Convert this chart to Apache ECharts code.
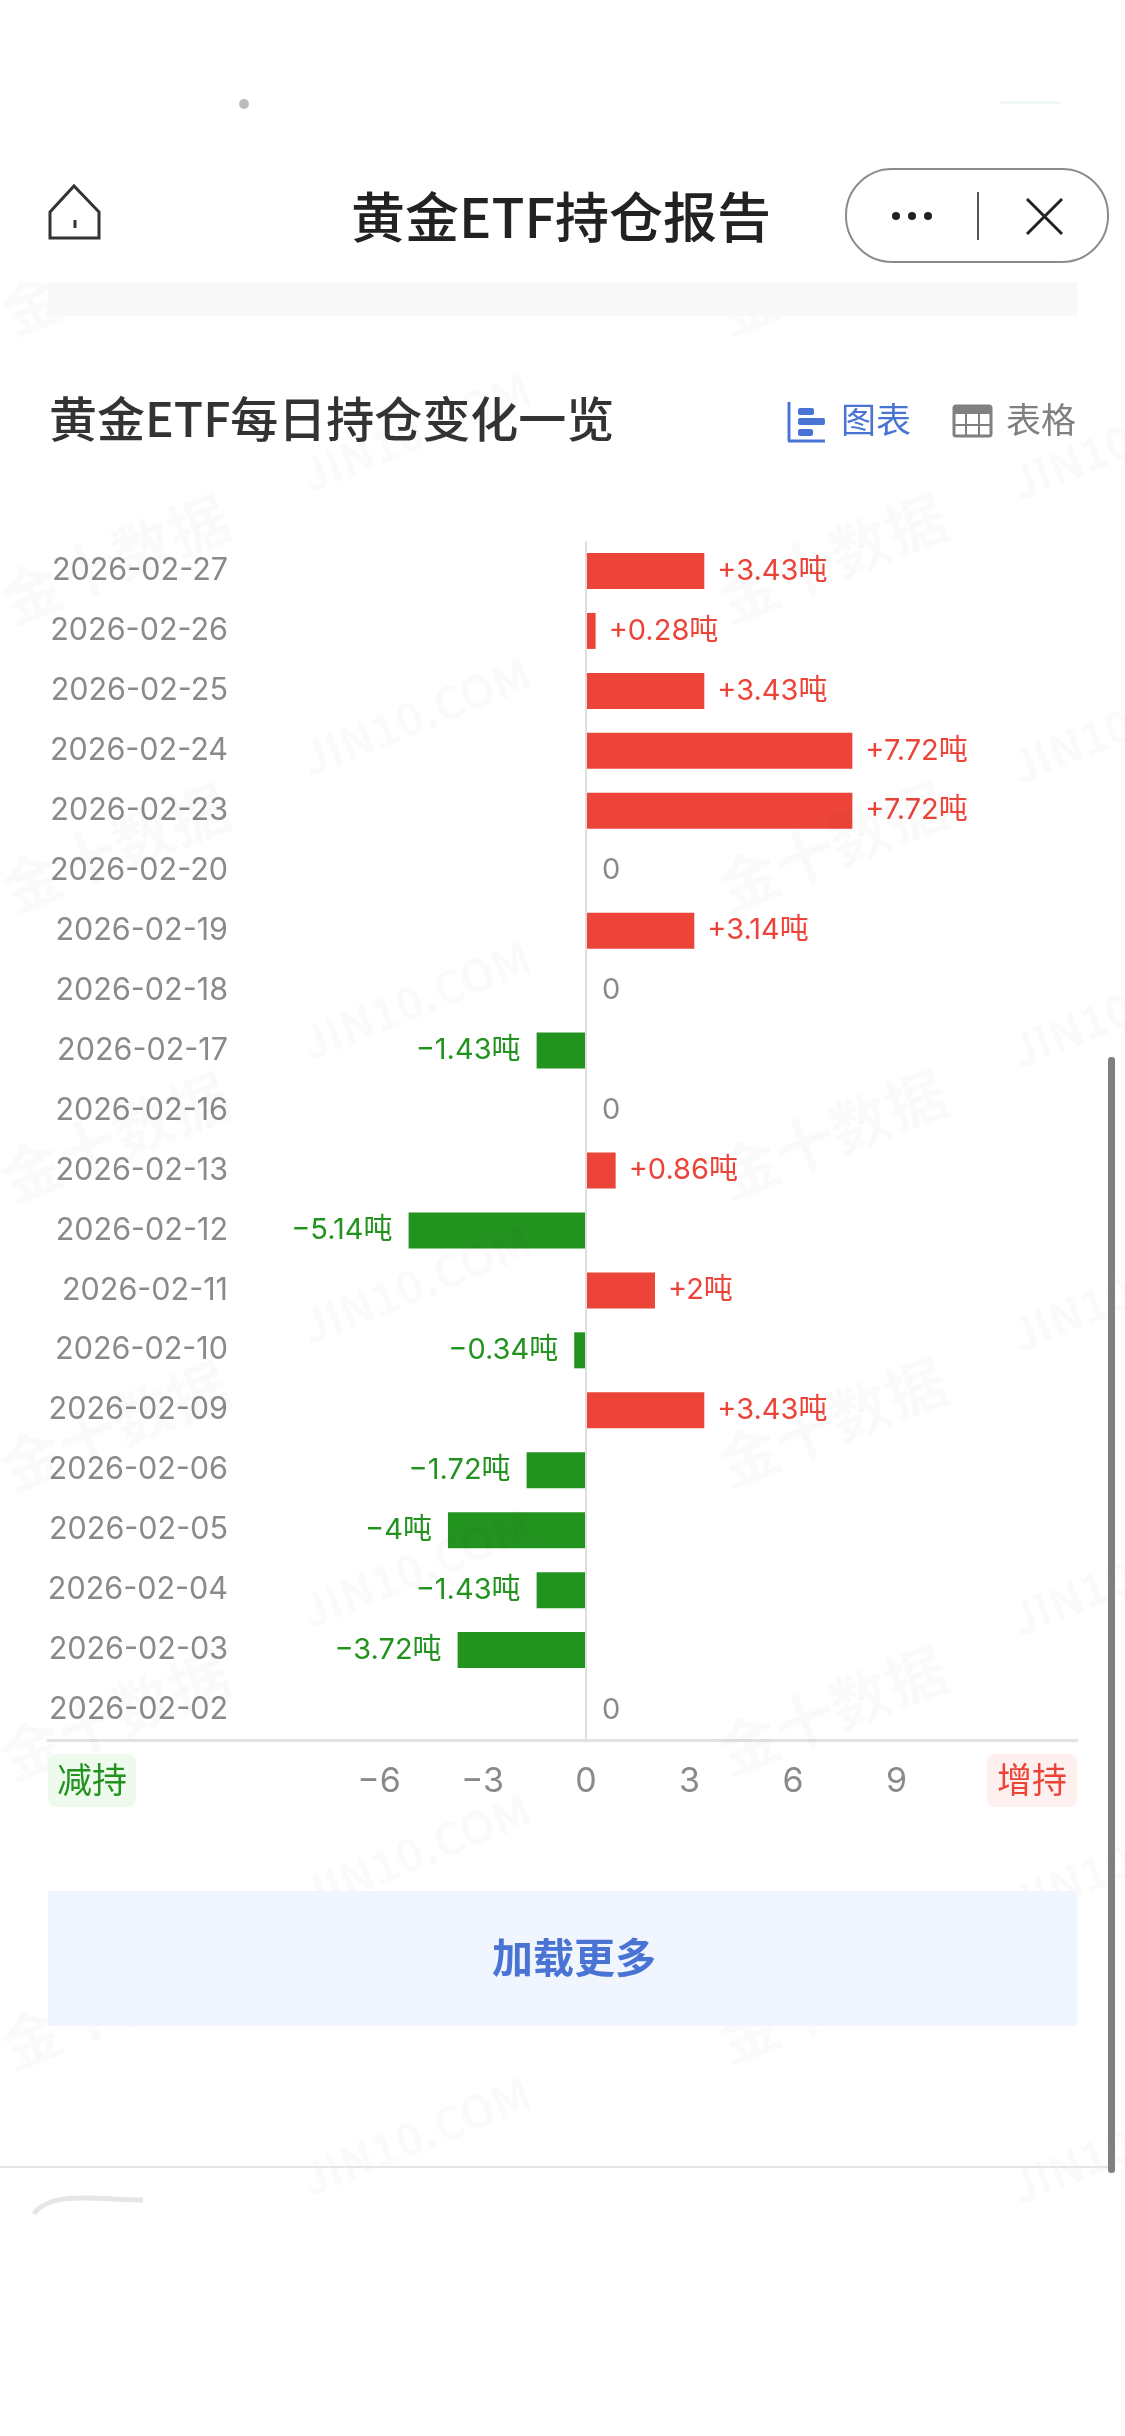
<!DOCTYPE html>
<html>
<head>
<meta charset="utf-8">
<title>黄金ETF持仓报告</title>
<style>
html,body{margin:0;padding:0;background:#fff}
#main{width:1125px;height:2436px}
</style>
<script src="https://cdn.jsdelivr.net/npm/echarts@6/dist/echarts.min.js"></script>
</head>
<body>
<div id="main"></div>
<script>
var dates = ['2026-02-27','2026-02-26','2026-02-25','2026-02-24','2026-02-23','2026-02-20','2026-02-19','2026-02-18','2026-02-17','2026-02-16',
    '2026-02-13','2026-02-12','2026-02-11','2026-02-10','2026-02-09','2026-02-06','2026-02-05','2026-02-04','2026-02-03','2026-02-02'];
var changes = [3.43,0.28,3.43,7.72,7.72,0,3.14,0,-1.43,0,0.86,-5.14,2,-0.34,3.43,-1.72,-4,-1.43,-3.72,0];
var xTicks = [-6,-3,0,3,6,9];

var FONT = '"Noto Sans CJK SC"';
var NUM_FONT = 'Inter, "Noto Sans CJK SC"';
var RED = '#ec4439', GREEN = '#23931f', GRAY = '#8a8a8a', BLUE = '#4a74d4';

var barData = changes.map(function(v){
    return {
        value: v,
        itemStyle: {color: v > 0 ? RED : GREEN},
        label: {
            position: v < 0 ? 'left' : 'right',
            distance: v > 0 ? 13 : 16,
            color: v > 0 ? RED : (v < 0 ? GREEN : GRAY)
        }
    };
});

function minus(s){
    return String(s).replace('-', '\u2212');
}
function txt(x, y, s, size, color, weight){
    return {type:'text', x:x, y:y, z:110, style:{text:s, fill:color, font:(weight||400)+' '+size+'px '+FONT, align:'center', verticalAlign:'middle'}};
}
function box(x, y, w, h, color, r, z){
    return {type:'rect', z:z||105, shape:{x:x,y:y,width:w,height:h,r:r||0}, style:{fill:color}};
}
function seg(x1, y1, x2, y2, color, w){
    return {type:'line', z:110, shape:{x1:x1,y1:y1,x2:x2,y2:y2}, style:{stroke:color, lineWidth:w}};
}

var graphics = [];

// 水印
function mark(x, y, s, size, weight){
    graphics.push({type:'text', x:x, y:y, z:100, rotation:22*Math.PI/180,
        style:{text:s, fill:'rgba(0,0,0,0.02)', font:weight+' '+size+'px '+FONT, align:'center', verticalAlign:'middle'}});
}
for(var i=0;i<7;i++){
    mark(115, 270+i*289, '金十数据', 60, 700);
    mark(832, 270+i*288, '金十数据', 60, 700);
    mark(416, 432+i*284, 'JIN10.COM', 45, 700);
    mark(1125, 440+i*284, 'JIN10.COM', 45, 700);
}

// 顶部导航
graphics.push(box(0,0,1125,282,'#fff',0,104));
graphics.push(box(48,282,1029,34,'#f8f8f8',0,105));
graphics.push({type:'polygon', z:110, shape:{points:[[50,212],[74,186],[99,212],[99,238],[50,238]]}, style:{fill:'none',stroke:'#333',lineWidth:3}});
graphics.push(seg(75,220,75,228,'#333',3));
graphics.push(txt(561,217,'黄金ETF持仓报告',54,'#222',500));
graphics.push({type:'rect', z:110, shape:{x:846,y:169,width:262,height:93,r:46}, style:{fill:'#fff',stroke:'#8c8c8c',lineWidth:2}});
[896,912,928].forEach(function(x){
    graphics.push({type:'circle', z:110, shape:{cx:x,cy:216,r:4}, style:{fill:'#222'}});
});
graphics.push(seg(978,192,978,240,'#555',2));
graphics.push(seg(1027,199,1062,234,'#222',3));
graphics.push(seg(1062,199,1027,234,'#222',3));

// 标题栏
graphics.push({type:'text', x:49, y:419, z:110, style:{text:'黄金ETF每日持仓变化一览', fill:'#333', font:'500 48px '+FONT, align:'left', verticalAlign:'middle'}});
graphics.push(seg(789,402,789,441,BLUE,3));
graphics.push(seg(788,441,825,441,BLUE,3));
graphics.push(box(798,408,16,7,BLUE,2,110));
graphics.push(box(798,418,27,7,BLUE,2,110));
graphics.push(box(798,429,15,7,BLUE,2,110));
graphics.push(txt(876,420,'图表',35,BLUE));
graphics.push({type:'rect', z:110, shape:{x:954,y:406,width:37,height:30,r:2}, style:{fill:'none',stroke:'#808080',lineWidth:3}});
graphics.push(box(954,406,37,8,'#808080',0,110));
graphics.push(seg(966,410,966,436,'#808080',2));
graphics.push(seg(979,410,979,436,'#808080',2));
graphics.push(seg(954,425,991,425,'#808080',2));
graphics.push(txt(1041,420,'表格',35,'#808080'));

// 减持 / 增持
graphics.push(box(48,1754,88,53,'#eefaee',8));
graphics.push(txt(92,1780,'减持',35,GREEN));
graphics.push(box(987,1754,90,53,'#fdf0ef',8));
graphics.push(txt(1032,1780,'增持',35,RED));

// 加载更多
graphics.push(box(48,1891,1029,135,'#f0f5fe',0,105));
graphics.push(txt(574,1957,'加载更多',41,BLUE,700));

// 底部
graphics.push(seg(0,2167,1108,2167,'#e6e6e6',2));
graphics.push({type:'bezierCurve', z:110, shape:{x1:34,y1:2214,x2:143,y2:2200,cpx1:50,cpy1:2190,cpx2:100,cpy2:2200}, style:{fill:'none',stroke:'#e6e6e6',lineWidth:5}});
graphics.push({type:'circle', z:110, shape:{cx:244,cy:104,r:5}, style:{fill:'#bbb'}});
graphics.push(box(1000,101,60,3,'#eef8f2',1,110));

// 滚动条
graphics.push(box(1108,1057,7,1116,'#808080',3,112));

var option = {
    backgroundColor: '#fff',
    animation: false,
    textStyle: {fontFamily: FONT},
    grid: {left:48, right:48, top:541, height:1199, containLabel:false},
    xAxis: {
        type: 'value',
        position: 'bottom',
        min: -15.59,
        max: 14.23,
        axisLine: {show:true, onZero:false, lineStyle:{color:'#e2e2e2', width:3}},
        axisTick: {show:false},
        splitLine: {show:false},
        axisLabel: {customValues:xTicks, color:GRAY, fontSize:34, margin:25, fontFamily:NUM_FONT, formatter:minus}
    },
    yAxis: {
        type: 'category',
        data: dates,
        inverse: true,
        axisLine: {show:false, onZero:false},
        axisTick: {show:false},
        axisLabel: {inside:true, align:'right', margin:180, color:GRAY, fontSize:30.5, padding:[6,0,0,0], fontFamily:NUM_FONT}
    },
    series: [{
        type: 'bar',
        data: barData,
        barWidth: 36,
        label: {
            show: true,
            fontSize: 29,
            padding: [6,0,0,0],
            fontFamily: NUM_FONT,
            formatter: function(p){
                if(p.value === 0) return '0';
                return (p.value > 0 ? '+' : '') + minus(p.value) + '吨';
            }
        },
        markLine: {
            silent: true,
            symbol: 'none',
            label: {show:false},
            lineStyle: {color:'#dedede', width:2, type:'solid'},
            data: [{xAxis:0}]
        }
    }],
    graphic: {elements: graphics}
};

var myChart = echarts.init(document.getElementById('main'));
myChart.setOption(option);
</script>
</body>
</html>
